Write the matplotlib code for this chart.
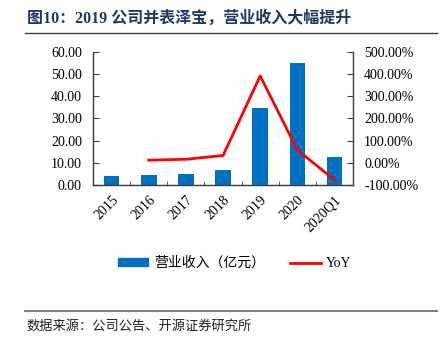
import numpy as np
import matplotlib.pyplot as plt
from matplotlib.lines import Line2D
from matplotlib.patches import Patch

plt.rcParams['font.family'] = ['Liberation Serif', 'Noto Sans CJK SC']

years = ['2015', '2016', '2017', '2018', '2019', '2020', '2020Q1']
revenue = [3.9, 4.3, 5.0, 6.8, 34.7, 55.1, 12.8]     # 亿元
yoy = [np.nan, 12.0, 16.0, 33.0, 392.0, 58.0, -77.0]  # %

fig = plt.figure(figsize=(4.43, 3.51), dpi=100)
ax = fig.add_axes([0.21, 0.473, 0.587, 0.379])
ax2 = ax.twinx()

x = np.arange(len(years))
ax.bar(x, revenue, width=0.42, color='#0070C0', zorder=2)
ax2.plot(x, yoy, color='#FF0000', lw=2, zorder=3)

ax.set_xlim(-0.5, len(years) - 0.5)
ax.set_ylim(0, 60)
ax.set_yticks(np.arange(0, 61, 10))
ax.set_yticklabels(['%.2f' % v for v in np.arange(0, 61, 10)], fontsize=10)
ax2.set_ylim(-100, 500)
ax2.set_yticks(np.arange(-100, 501, 100))
ax2.set_yticklabels(['%.2f%%' % v for v in np.arange(-100, 501, 100)], fontsize=10)

ax.set_xticks(x)
ax.set_xticklabels(years, rotation=45, ha='right', rotation_mode='anchor', fontsize=10)
ax.tick_params(axis='x', length=0, pad=6)
ax.set_xticks(np.arange(-0.5, len(years), 1), minor=True)
ax.tick_params(axis='x', which='minor', direction='in', length=3, color='#404040')
ax.tick_params(axis='y', direction='in', length=4, color='#404040', pad=8)
ax2.tick_params(axis='y', direction='in', length=4, color='#404040', pad=8)

for a in (ax, ax2):
    a.spines['top'].set_visible(False)
    for s in ('left', 'right', 'bottom'):
        a.spines[s].set_color('#404040')
        a.spines[s].set_linewidth(0.9)

handles = [Patch(color='#0070C0'), Line2D([0], [0], color='#FF0000', lw=2)]
fig.legend(handles, ['营业收入（亿元）', 'YoY'], loc='center', bbox_to_anchor=(0.53, 0.25),
           ncol=2, frameon=False, fontsize=10, handlelength=2.2, handleheight=0.5,
           columnspacing=1.8, handletextpad=0.4)

fig.text(0.06, 0.948, '图10：2019 公司并表泽宝，营业收入大幅提升', fontsize=11.5,
         fontweight='bold', color='#1F3864', va='center')
fig.add_artist(Line2D([0.057, 0.986], [0.906, 0.906], color='#404040', lw=1))
fig.add_artist(Line2D([0.057, 0.986], [0.114, 0.114], color='#808080', lw=1.5))
fig.text(0.06, 0.072, '数据来源：公司公告、开源证券研究所', fontsize=9.5, color='#222222', va='center')

fig.savefig('out.png', dpi=100)
